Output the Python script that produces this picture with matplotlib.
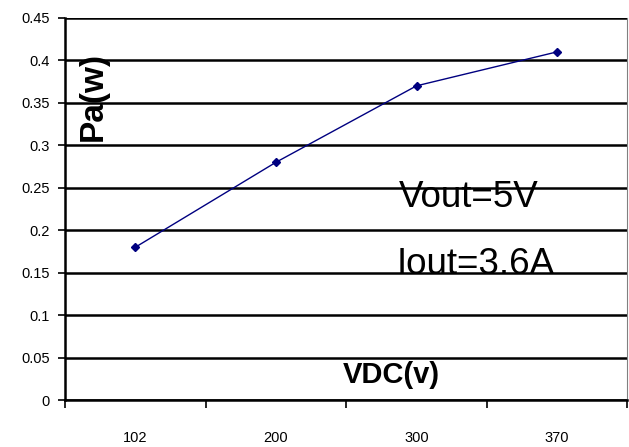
import matplotlib
matplotlib.use("Agg")
import matplotlib.pyplot as plt
import numpy as np

# data
vdc_labels = ["102", "200", "300", "370"]
pa_values = [0.18, 0.28, 0.37, 0.41]
y_ticks = [0, 0.05, 0.1, 0.15, 0.2, 0.25, 0.3, 0.35, 0.4, 0.45]
y_tick_labels = ["0", "0.05", "0.1", "0.15", "0.2", "0.25", "0.3", "0.35", "0.4", "0.45"]

plt.rcParams["font.family"] = ["Liberation Sans", "DejaVu Sans"]

fig = plt.figure(figsize=(6.29, 4.47), dpi=100)
ax = fig.add_axes([0.1035, 0.105, 0.894, 0.855])

x = np.arange(len(vdc_labels))
ax.plot(x, pa_values, color="#000080", lw=1.0, marker="D", ms=4.5, zorder=3)

ax.set_xlim(-0.5, len(vdc_labels) - 0.5)
ax.set_ylim(0, 0.45)
ax.set_yticks(y_ticks)
ax.set_yticklabels(y_tick_labels, fontsize=10.5)
ax.yaxis.grid(True, color="black", lw=1.8)
ax.set_axisbelow(True)

ax.set_xticks(x)
ax.set_xticklabels(vdc_labels, fontsize=10.5)
ax.tick_params(axis="x", length=0, pad=22)
ax.set_xticks(np.arange(-0.5, len(vdc_labels)), minor=True)
ax.tick_params(axis="x", which="minor", length=6, width=1.2, color="black")
ax.tick_params(axis="y", length=5, width=1.2, color="black", pad=6)

ax.spines["top"].set_visible(False)
ax.spines["left"].set_linewidth(1.8)
ax.spines["bottom"].set_linewidth(1.8)
ax.spines["right"].set_color("#808080")

ax.text(0.05, 0.793, "Pa(w)", transform=ax.transAxes, rotation=90,
        fontsize=24, fontweight="bold", ha="center", va="center")
ax.text(0.58, 0.065, "VDC(v)", transform=ax.transAxes,
        fontsize=21, fontweight="bold", ha="center", va="center")
ax.text(0.717, 0.529, "Vout=5V", transform=ax.transAxes,
        fontsize=26.5, ha="center", va="center")
ax.text(0.731, 0.356, "Iout=3.6A", transform=ax.transAxes,
        fontsize=26.5, ha="center", va="center")

fig.savefig("out.png", dpi=100)
